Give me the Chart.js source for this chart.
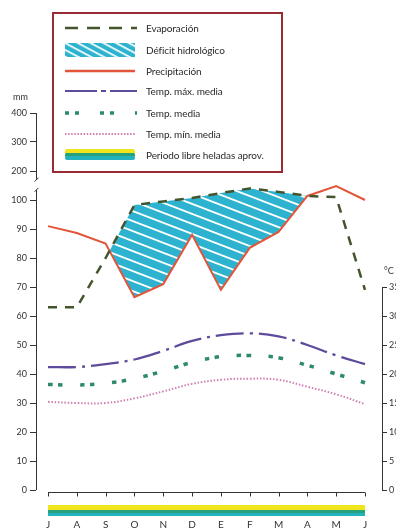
<!DOCTYPE html>
<html><head><meta charset="utf-8">
<script src="https://cdn.jsdelivr.net/npm/chart.js@4"></script>
<style>
html,body{margin:0;padding:0;overflow:hidden;background:#fff;width:396px;height:529px;}
#wrap{position:relative;width:420px;height:529px;}
#c{position:absolute;left:0;top:0;}
.lbl{position:absolute;font-family:Lato,"Open Sans",sans-serif;font-size:9px;color:#333;line-height:10px;}
#legend{position:absolute;left:52px;top:12px;width:231px;height:161px;box-sizing:border-box;border:2px solid #9a2b35;background:#fff;}
.row{position:absolute;left:0;width:225px;height:16px;}
.row svg{position:absolute;left:11px;top:0;}
.row span{position:absolute;left:92px;top:0;line-height:16px;font-family:Lato,"Open Sans",sans-serif;font-size:10px;letter-spacing:-0.1px;color:#2a2a2a;white-space:nowrap;}
</style></head>
<body>
<div id="wrap">
<canvas id="c" width="420" height="529"></canvas>
<div class="lbl" style="left:13px;top:92px;">mm</div>
<div class="lbl" style="left:384px;top:266px;">°C</div>
<div id="legend">
 <div class="row" style="top:6px"><svg width="72" height="16"><line x1="0" y1="8" x2="72" y2="8" stroke="#44552e" stroke-width="2.5" stroke-dasharray="13 9"/></svg><span>Evaporación</span></div>
 <div class="row" style="top:28px"><svg width="72" height="16"><defs><pattern id="hp" width="14" height="6" patternUnits="userSpaceOnUse" patternTransform="rotate(28)"><rect width="14" height="6" fill="#2db3cf"/><rect width="14" height="1.7" fill="#fff"/></pattern></defs><rect x="0" y="1" width="70" height="14" fill="url(#hp)"/></svg><span>Déficit hidrológico</span></div>
 <div class="row" style="top:49px"><svg width="72" height="16"><line x1="0" y1="8" x2="70" y2="8" stroke="#e2553a" stroke-width="2.5"/></svg><span>Precipitación</span></div>
 <div class="row" style="top:69px"><svg width="72" height="16"><line x1="0" y1="8" x2="72" y2="8" stroke="#5f4b9b" stroke-width="2.2" stroke-dasharray="32 4 5 4"/></svg><span>Temp. máx. media</span></div>
 <div class="row" style="top:91px"><svg width="72" height="16"><line x1="0" y1="8" x2="72" y2="8" stroke="#2e8a68" stroke-width="3.5" stroke-dasharray="4 6 4 21"/></svg><span>Temp. media</span></div>
 <div class="row" style="top:112px"><svg width="72" height="16"><line x1="0" y1="8" x2="70" y2="8" stroke="#cf7fb0" stroke-width="2" stroke-dasharray="1.5 1.6"/></svg><span>Temp. mín. media</span></div>
 <div class="row" style="top:133px"><svg width="72" height="16"><rect x="0" y="2" width="70" height="6" rx="2.5" fill="#f0e41c"/><rect x="0" y="6" width="70" height="4" rx="1.5" fill="#27a07c"/><rect x="0" y="9" width="70" height="4" rx="2" fill="#22b2be"/></svg><span>Periodo libre heladas aprov.</span></div>
</div>
</div>
<script>
const months = ['J','A','S','O','N','D','E','F','M','A','M','J'];
const evaporation   = [63, 63, 80, 98.3, 99.5, 100.7, 102.4, 104, 102.8, 101.4, 101, 69];
const precipitation = [91, 88.6, 85, 66.5, 71, 88, 69, 83.5, 89, 101.4, 104.8, 100];
const tempMax = [21.2, 21.2, 21.7, 22.5, 24, 25.7, 26.7, 27, 26.5, 25, 23.2, 21.7];
const tempMed = [18.2, 18.1, 18.4, 19.2, 20.5, 22, 23, 23.2, 22.8, 21.5, 20, 18.5];
const tempMin = [15.2, 15, 15, 15.8, 17, 18.3, 19, 19.2, 19, 17.8, 16.5, 14.8];
const mmTicks = [0,10,20,30,40,50,60,70,80,90,100,200,300,400];
const cTicks = [0,5,10,15,20,25,30,35];
const frostFree = [0, 11];

// broken mm axis: linear up to 100, then compressed (1 unit per 10 mm)
const toAxis = v => v <= 100 ? v : 100 + (v - 100) / 10;
const fromAxis = a => a <= 100 ? a : 100 + (a - 100) * 10;

function makeHatch(){
  const w=26,h=10,c=document.createElement('canvas');c.width=w;c.height=h;
  const g=c.getContext('2d');g.fillStyle='#2db3cf';g.fillRect(0,0,w,h);
  g.strokeStyle='#ffffff';g.lineWidth=1.8;
  for(let k=-1;k<=1;k++){g.beginPath();g.moveTo(-w,-h+k*h);g.lineTo(2*w,2*h+k*h);g.stroke();}
  return g.createPattern(c,'repeat');
}
const ctx0=document.getElementById('c').getContext('2d');
const hatch=makeHatch();
const pts = arr => arr.map((v,i)=>({x:i,y:v}));

const decor = {
  id:'decor',
  afterDraw(chart){
    const {ctx, chartArea:a, scales:{x,y,yT}} = chart;
    const line=(x1,y1,x2,y2)=>{ctx.beginPath();ctx.moveTo(x1,y1);ctx.lineTo(x2,y2);ctx.stroke();};
    ctx.save();ctx.strokeStyle='#333';ctx.lineWidth=1;
    const lx=Math.round(a.left)+0.5;
    const b1=y.getPixelForValue(107), b2=y.getPixelForValue(103.5);
    line(lx,y.getPixelForValue(130),lx,b1);
    line(lx,b2,lx,y.getPixelForValue(0));
    line(lx-2,b1+2,lx+2,b1-2);
    line(lx-2,b2+2,lx+2,b2-2);
    const rx=Math.round(a.right)+0.5;
    line(rx,yT.getPixelForValue(35),rx,yT.getPixelForValue(0));
    const by=Math.round(a.bottom)+2.5;
    line(x.getPixelForValue(0),by,x.getPixelForValue(11),by);
    months.forEach((m,i)=>{const px=Math.round(x.getPixelForValue(i))+0.5;line(px,by,px,by+4);});
    const x0=x.getPixelForValue(frostFree[0]), x1=x.getPixelForValue(frostFree[1]);
    const fy=a.bottom+15;
    ctx.fillStyle='#f0e41c';ctx.fillRect(x0,fy,x1-x0,5);
    ctx.fillStyle='#27a07c';ctx.fillRect(x0,fy+5,x1-x0,3);
    ctx.fillStyle='#22b2be';ctx.fillRect(x0,fy+8,x1-x0,3);
    ctx.restore();
  }
};

new Chart(ctx0,{
  type:'line',
  data:{datasets:[
    {label:'Evaporación',data:pts(evaporation),borderColor:'#44552e',borderWidth:2.5,borderDash:[9,8],pointRadius:0,tension:0,
     fill:{target:1,above:hatch,below:'rgba(0,0,0,0)'}},
    {label:'Precipitación',data:pts(precipitation),borderColor:'#e2553a',borderWidth:2,pointRadius:0,tension:0,fill:false},
    {label:'Temp. máx. media',yAxisID:'yT',data:pts(tempMax),borderColor:'#5f4b9b',borderWidth:2.3,borderDash:[28,6,3,6],pointRadius:0,tension:0.4,fill:false},
    {label:'Temp. media',yAxisID:'yT',data:pts(tempMed),borderColor:'#2e8a68',borderWidth:3.5,borderDash:[4.5,5.5,4.5,17.5],pointRadius:0,tension:0.4,fill:false},
    {label:'Temp. mín. media',yAxisID:'yT',data:pts(tempMin),borderColor:'#cf7fb0',borderWidth:2,borderDash:[1.5,1.8],pointRadius:0,tension:0.4,fill:false}
  ]},
  options:{
    responsive:false,animation:false,
    layout:{padding:{top:113,left:0,right:0,bottom:0}},
    plugins:{legend:{display:false},tooltip:{enabled:false},filler:{drawTime:'beforeDatasetsDraw'}},
    scales:{
      x:{type:'linear',min:-0.416,max:11.59,
         afterBuildTicks:s=>{s.ticks=months.map((m,i)=>({value:i}));},
         ticks:{callback:v=>months[v],font:{family:'Lato',size:10},color:'#333',padding:21,maxRotation:0,autoSkip:false},
         grid:{display:false},border:{display:false},
         afterFit:s=>{s.height=39;}},
      y:{position:'left',min:0,max:130,
         afterBuildTicks:s=>{s.ticks=mmTicks.map(v=>({value:toAxis(v)}));},
         ticks:{callback:v=>String(Math.round(fromAxis(v))),font:{family:'Lato',size:9},color:'#333',padding:3},
         grid:{drawOnChartArea:false,drawTicks:true,tickLength:6,color:'#333'},border:{display:false},
         afterFit:s=>{s.width=36;}},
      yT:{position:'right',min:0,max:65,
         afterBuildTicks:s=>{s.ticks=cTicks.map(v=>({value:v}));},
         ticks:{font:{family:'Lato',size:9},color:'#333',padding:2},
         grid:{drawOnChartArea:false,drawTicks:true,tickLength:5,color:'#333'},border:{display:false},
         afterFit:s=>{s.width=38;}}
    }
  },
  plugins:[decor]
});
</script>
</body></html>
